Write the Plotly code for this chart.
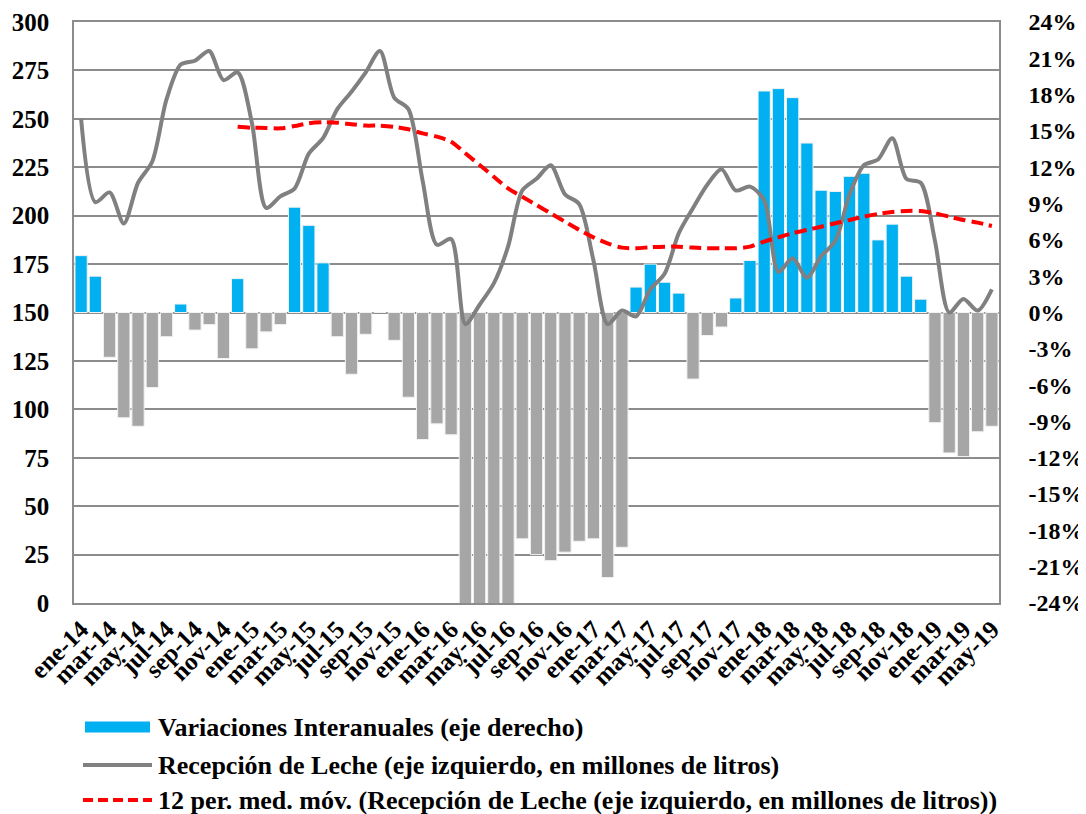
import plotly.graph_objects as go

meses = ["ene", "feb", "mar", "abr", "may", "jun", "jul", "ago", "sep", "oct", "nov", "dic"]
categories = [f"{m}-{y}" for y in ["14", "15", "16", "17", "18", "19"] for m in meses][:65]

variaciones = [
    4.7, 3.0, -3.7, -8.7, -9.4, -6.2, -2.0, 0.7, -1.45, -1.0, -3.8, 2.8,
    -3.0, -1.6, -1.0, 8.7, 7.2, 4.1, -2.0, -5.1, -1.8, 0.0, -2.3, -7.0,
    -10.5, -9.2, -10.1, -25.0, -25.0, -25.0, -25.0, -18.7, -20.0, -20.5, -19.8, -18.9,
    -18.7, -21.9, -19.4, 2.1, 4.0, 2.5, 1.6, -5.5, -1.9, -1.2, 1.2, 4.3,
    18.3, 18.5, 17.75, 14.0, 10.1, 10.0, 11.25, 11.5, 6.0, 7.3, 3.0, 1.1,
    -9.1, -11.6, -11.9, -9.85, -9.4,
]

recepcion = [
    250, 207, 212, 196, 217, 228, 260, 278, 280, 285, 270, 274,
    248, 204, 210, 214, 232, 240, 255, 264, 274, 285, 261, 255,
    218, 185, 188, 144, 154, 165, 184, 213, 219, 226, 211, 206,
    177, 144, 151, 148, 162, 170, 191, 204, 216, 224, 213, 215,
    208, 171, 178, 168, 179, 187, 211, 226, 229, 240, 219, 217,
    187, 150, 157, 151, 162,
]

media_movil = [None] * 11 + [
    245.9,
    245.4, 245.3, 245.1, 246.3, 247.7, 248.2, 248.0, 247.2, 246.5, 246.5, 245.9, 244.6,
    242.5, 240.8, 238.2, 232.2, 226.2, 220.1, 214.1, 209.8, 205.5, 201.2, 196.9, 192.6,
    188.8, 185.7, 183.5, 183.2, 183.7, 184.0, 184.0, 183.5, 183.2, 183.2, 183.2, 184.0,
    186.6, 188.8, 190.9, 192.6, 194.3, 196.1, 197.8, 199.5, 200.9, 201.9, 202.4, 202.4,
    201.2, 199.5, 197.8, 196.4, 194.7,
]

left_ticks = list(range(0, 301, 25))
right_ticks = list(range(-24, 25, 3))
x_ticks = categories[::2]

legend_names = [
    "Variaciones Interanuales (eje derecho)",
    "Recepción de Leche (eje izquierdo, en millones de litros)",
    "12 per. med. móv. (Recepción de Leche (eje izquierdo, en millones de litros))",
]

BLUE = "#00B0F0"
GRAYBAR = "#A6A6A6"
GRAYLINE = "#808080"
RED = "#FF0000"
bar_colors = [BLUE if v >= 0 else GRAYBAR for v in variaciones]

FONT = "Liberation Serif"
GRID = "#8C8C8C"
DASH = "12px,6px"

fig = go.Figure()
fig.add_trace(go.Bar(
    x=categories, y=variaciones, yaxis="y",
    marker=dict(color=bar_colors, line=dict(color="#F2F2F2", width=1)),
    name=legend_names[0], width=0.86, showlegend=False,
))
fig.add_trace(go.Scatter(
    x=categories, y=recepcion, yaxis="y2", mode="lines",
    line=dict(color=GRAYLINE, width=4, shape="spline", smoothing=0.8),
    name=legend_names[1], showlegend=False,
))
fig.add_trace(go.Scatter(
    x=categories, y=media_movil, yaxis="y2", mode="lines",
    line=dict(color=RED, width=4, dash=DASH, shape="spline", smoothing=0.8),
    name=legend_names[2], showlegend=False,
))

# page body has an 8px margin: figure coords = screenshot coords - 8
OFF = 8
PLOT_L, PLOT_R, PLOT_T, PLOT_B = 74 - OFF, 999 - OFF, 22 - OFF, 603 - OFF
W, H = 1086 - OFF, 814 - OFF

def px(xs):
    return (xs - OFF - PLOT_L) / (PLOT_R - PLOT_L)

def py(ys):
    return (PLOT_B - (ys - OFF)) / (PLOT_B - PLOT_T)

legend_rows = [727, 765, 800]
shapes = [
    dict(type="rect", xref="paper", yref="paper", x0=px(85), x1=px(150),
         y0=py(legend_rows[0] - 5.5), y1=py(legend_rows[0] + 5.5), fillcolor=BLUE, line=dict(width=0)),
    dict(type="line", xref="paper", yref="paper", x0=px(83), x1=px(152),
         y0=py(legend_rows[1]), y1=py(legend_rows[1]), line=dict(color=GRAYLINE, width=4)),
    dict(type="line", xref="paper", yref="paper", x0=px(83), x1=px(152),
         y0=py(legend_rows[2]), y1=py(legend_rows[2]), line=dict(color=RED, width=4, dash="10px,5px")),
]
annotations = [
    dict(text=name, xref="paper", yref="paper", x=px(156), y=py(row), xanchor="left",
         yanchor="middle", showarrow=False,
         font=dict(family=FONT, size=26, color="black", weight="bold"))
    for name, row in zip(legend_names, legend_rows)
]

fig.update_layout(
    width=W, height=H,
    margin=dict(l=PLOT_L, r=W - PLOT_R, t=PLOT_T, b=H - PLOT_B, autoexpand=False),
    paper_bgcolor="white", plot_bgcolor="white",
    font=dict(family=FONT, color="black", size=20),
    showlegend=False,
    shapes=shapes,
    annotations=annotations,
    xaxis=dict(
        type="category", tickmode="array", tickvals=x_ticks, ticktext=x_ticks,
        tickangle=-45, tickfont=dict(family=FONT, size=25, color="black", weight="bold"),
        showline=True, linecolor=GRID, linewidth=1.5, mirror=True,
        showgrid=False, ticks="", range=[-0.5, 64.5], automargin=False,
    ),
    yaxis=dict(
        side="right", range=[-24, 24], tickmode="array", tickvals=right_ticks,
        ticktext=[f"{t}%" for t in right_ticks],
        tickfont=dict(family=FONT, size=24, color="black", weight="bold"),
        showgrid=False, zeroline=False, showline=True, linecolor=GRID, linewidth=1.5,
        ticks="", ticklabelstandoff=23, automargin=False,
    ),
    yaxis2=dict(
        side="left", overlaying="y", range=[0, 300], tickmode="array", tickvals=left_ticks,
        tickfont=dict(family=FONT, size=25, color="black", weight="bold"),
        showgrid=True, gridcolor=GRID, gridwidth=1.5, zeroline=False,
        showline=True, linecolor=GRID, linewidth=1.5, ticks="", ticklabelstandoff=18,
        automargin=False,
    ),
)

fig.write_html("out.html")
